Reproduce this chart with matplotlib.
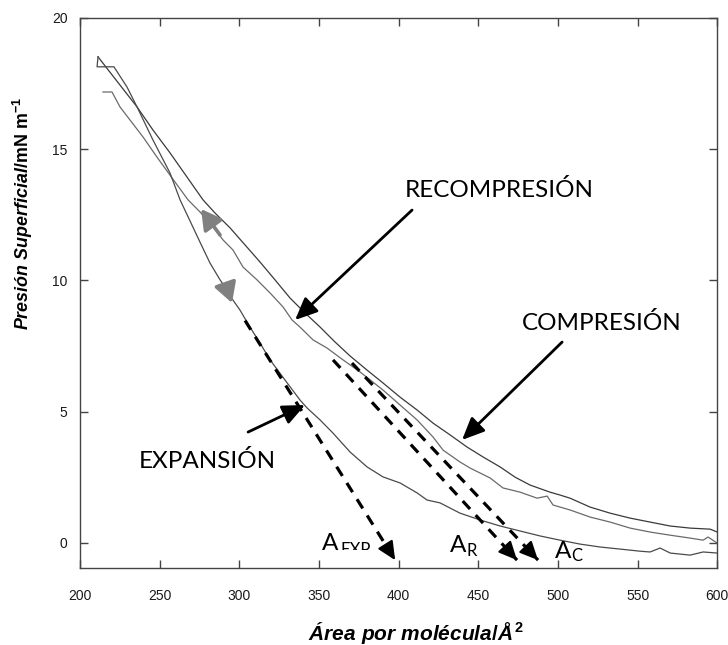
import matplotlib
matplotlib.use("Agg")
import matplotlib.pyplot as plt
from matplotlib.transforms import Bbox, TransformedBbox

plt.rcParams['mathtext.fontset'] = 'custom'
plt.rcParams['mathtext.rm'] = 'Liberation Sans:bold'
plt.rcParams['mathtext.it'] = 'Liberation Sans:bold:italic'
plt.rcParams['mathtext.bf'] = 'Liberation Sans:bold'

# Compression isotherm (surface pressure vs. area per molecule)
comp_area = [211.3, 235.8, 245.8, 256.5, 277.2, 284.7, 294.2, 303.6, 313.0, 322.4,
             331.8, 341.2, 350.7, 360.1, 369.5, 380.2, 390.2, 400.9, 411.6, 421.6,
             432.3, 442.9, 453.0, 463.7, 473.1, 482.5, 495.0, 501.3, 507.6, 520.2,
             532.7, 545.3, 557.8, 570.4, 582.9, 595.5, 599.9]
comp_pi = [18.52, 16.61, 15.73, 14.86, 13.07, 12.57, 12.00, 11.35, 10.70, 10.02,
           9.33, 8.76, 8.22, 7.65, 7.12, 6.58, 6.09, 5.55, 5.06, 4.56,
           4.11, 3.65, 3.27, 2.89, 2.50, 2.20, 1.93, 1.82, 1.70, 1.36,
           1.13, 0.94, 0.79, 0.64, 0.56, 0.52, 0.41]

# Recompression isotherm
rec_area = [214.4, 220.1, 225.1, 239.5, 248.3, 257.8, 267.8, 275.3, 283.5, 289.8,
            296.0, 302.3, 311.1, 319.3, 327.4, 333.1, 338.1, 346.3, 355.1, 365.1,
            375.8, 390.2, 400.9, 411.6, 421.6, 427.9, 438.5, 444.8, 457.4, 465.5,
            476.2, 486.9, 493.2, 496.9, 507.6, 520.2, 532.7, 545.3, 557.8, 570.4,
            582.9, 591.1, 594.2, 599.9]
rec_pi = [17.18, 17.18, 16.61, 15.47, 14.70, 13.90, 13.07, 12.61, 12.04, 11.54,
          11.16, 10.51, 10.02, 9.52, 8.99, 8.49, 8.22, 7.73, 7.42, 6.97,
          6.51, 5.82, 5.25, 4.68, 4.03, 3.53, 3.08, 2.85, 2.47, 2.09,
          1.93, 1.70, 1.78, 1.44, 1.25, 0.98, 0.79, 0.56, 0.41, 0.29,
          0.18, 0.10, 0.22, -0.01]

# Expansion isotherm (starts where compression ends)
exp_area = [211.3, 210.7, 221.3, 229.5, 235.8, 245.8, 256.5, 262.8, 269.1, 275.3,
            281.6, 287.9, 292.3, 296.0, 300.4, 306.7, 313.0, 319.3, 328.7, 338.1,
            342.5, 350.7, 358.8, 369.5, 380.2, 390.2, 400.9, 411.6, 417.8, 426.0,
            438.5, 451.1, 463.7, 476.2, 488.8, 501.3, 513.9, 526.4, 539.0, 551.5,
            557.8, 564.1, 570.4, 582.9, 591.1, 599.9]
exp_pi = [18.52, 18.14, 18.14, 17.37, 16.61, 15.35, 14.09, 13.07, 12.26, 11.46,
          10.66, 10.02, 9.63, 9.25, 8.87, 8.22, 7.61, 6.97, 6.20, 5.44,
          5.14, 4.68, 4.18, 3.46, 2.89, 2.51, 2.28, 1.90, 1.63, 1.52,
          1.13, 0.87, 0.64, 0.45, 0.26, 0.10, -0.05, -0.16, -0.24, -0.32,
          -0.35, -0.20, -0.39, -0.47, -0.35, -0.39]

# Extrapolated tangents: (start area, start pressure, intercept area, end pressure)
tangent_exp = (303.6, 8.47, 397.8, -0.66)
tangent_rec = (358.8, 6.97, 474.3, -0.66)
tangent_comp = (370.7, 6.85, 487.5, -0.66)

x_ticks = [200, 250, 300, 350, 400, 450, 500, 550, 600]
y_ticks = [0, 5, 10, 15, 20]

label_font = ['Lato', 'DejaVu Sans']

fig = plt.figure(figsize=(7.28, 6.45), dpi=100)
ax = fig.add_axes([0.1099, 0.1194, 0.8754, 0.8527])

ax.plot(comp_area, comp_pi, color='#3a3a3a', lw=0.9)
ax.plot(rec_area, rec_pi, color='#6a6a6a', lw=0.9)
ax.plot(exp_area, exp_pi, color='#4a4a4a', lw=0.9)

ax.set_xlim(200, 600)
ax.set_ylim(-0.96, 20)
ax.set_xticks(x_ticks)
ax.set_yticks(y_ticks)
ax.tick_params(direction='in', length=6, width=1, color='#444444',
               top=True, right=True, labelsize=10, labelcolor='#1a1a1a')
ax.tick_params(axis='x', pad=15)
ax.tick_params(axis='y', pad=9)
for lab in ax.get_xticklabels() + ax.get_yticklabels():
    lab.set_fontfamily('Liberation Sans')
for sp in ax.spines.values():
    sp.set_color('#444444')
    sp.set_linewidth(1.0)

ax.set_xlabel(r'$\mathit{Área\ por\ molécula/Å}^{\mathit{2}}$', fontsize=15)
ax.xaxis.set_label_coords(0.527, -0.095)
ax.set_ylabel(r'$\mathit{Presión\ Superficial}/\mathrm{mN\ m}^{-1}$', fontsize=12.9)
ax.yaxis.set_label_coords(-0.071, 0.645)


def dashed_arrow(t):
    x0, y0, x1, y1 = t
    ax.plot([x0, x1], [y0, y1], color='black', lw=2.3,
            linestyle=(0, (3.4, 2.6)), solid_capstyle='butt')
    f = 0.05
    xm, ym = x1 - f * (x1 - x0), y1 - f * (y1 - y0)
    ax.annotate('', xy=(x1, y1), xytext=(xm, ym),
                arrowprops=dict(arrowstyle='-|>,head_length=0.75,head_width=0.35',
                                mutation_scale=15, lw=1.5, color='black',
                                shrinkA=0, shrinkB=0))


for t in (tangent_exp, tangent_rec, tangent_comp):
    dashed_arrow(t)


def solid_arrow(xy_from, xy_to, color='black', lw=2.0, hl=0.9, hw=0.4):
    ax.annotate('', xy=xy_to, xytext=xy_from,
                arrowprops=dict(arrowstyle=f'-|>,head_length={hl},head_width={hw}',
                                mutation_scale=15, lw=lw, color=color,
                                shrinkA=0, shrinkB=0))


solid_arrow((408.4, 12.68), (335.0, 8.49))
solid_arrow((502.6, 7.65), (439.8, 3.92))
solid_arrow((305.5, 4.22), (341.2, 5.25))

# direction markers along the hysteresis loop
solid_arrow((287.9, 11.73), (276.0, 12.72), color='#808080', lw=2.6, hl=0.8, hw=0.45)
solid_arrow((291.7, 9.78), (295.4, 9.14), color='#808080', lw=2.6, hl=0.8, hw=0.45)

ax.text(463.0, 13.17, 'RECOMPRESIÓN', ha='center', va='baseline',
        fontsize=17.5, family=label_font)
ax.text(527.7, 8.10, 'COMPRESIÓN', ha='center', va='baseline',
        fontsize=17.5, family=label_font)
ax.text(280.0, 2.85, 'EXPANSIÓN', ha='center', va='baseline',
        fontsize=17.5, family=label_font)

ax.text(351.9, -0.28, 'A', ha='left', va='baseline', fontsize=17.5, family=label_font)
sub = ax.text(363.2, -0.47, 'EXP', ha='left', va='baseline', fontsize=12,
              family=label_font, clip_on=True)
sub.set_clip_path(None)
sub.set_clip_box(TransformedBbox(Bbox([[355, -0.29], [395, 1.7]]), ax.transData))
ax.text(432.3, -0.35, 'A', ha='left', va='baseline', fontsize=17.5, family=label_font)
ax.text(442.3, -0.51, 'R', ha='left', va='baseline', fontsize=12, family=label_font)
ax.text(498.2, -0.58, 'A', ha='left', va='baseline', fontsize=17.5, family=label_font)
ax.text(508.2, -0.70, 'C', ha='left', va='baseline', fontsize=12, family=label_font)

fig.savefig('out.png', dpi=100)
